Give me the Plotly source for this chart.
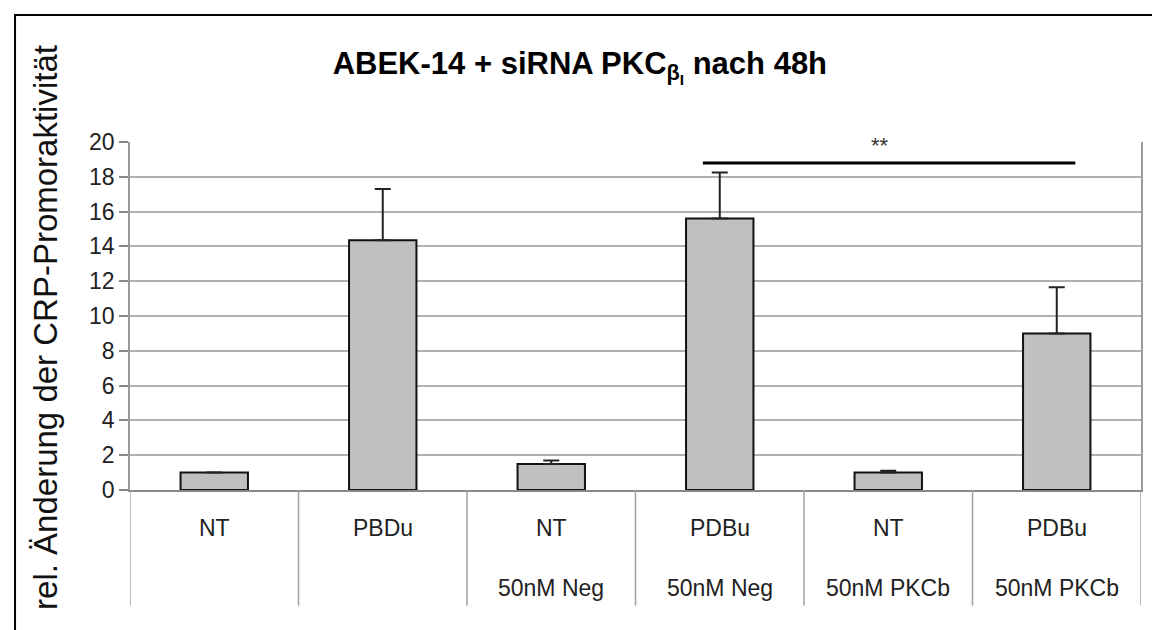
import plotly.graph_objects as go

# ---- data ----
line1 = ["NT", "PBDu", "NT", "PDBu", "NT", "PDBu"]
line2 = ["", "", "50nM Neg", "50nM Neg", "50nM PKCb", "50nM PKCb"]
values = [1.0, 14.35, 1.5, 15.6, 1.0, 9.0]
errors = [0.0, 2.95, 0.2, 2.65, 0.1, 2.65]
y_ticks = [0, 2, 4, 6, 8, 10, 12, 14, 16, 18, 20]
sig_pair = (3, 5)
sig_label = "**"
sig_level = 18.8

categories = [f"{a}|{b}" for a, b in zip(line1, line2)]
idx = list(range(len(categories)))

FONT = "Liberation Sans, Arial, sans-serif"

fig = go.Figure()
fig.add_trace(go.Bar(
    x=idx, y=values, width=0.4,
    marker=dict(color="#c0c0c0", line=dict(color="#111111", width=2)),
    error_y=dict(type="data", array=errors, symmetric=False,
                 arrayminus=[0] * len(errors),
                 color="#222222", thickness=2, width=8),
    showlegend=False,
))

ann = []
for i, (a, b) in enumerate(zip(line1, line2)):
    ann.append(dict(x=i, y=-0.109, xref="x", yref="paper", text=a, showarrow=False,
                    font=dict(family=FONT, size=23, color="#222222"),
                    xanchor="center", yanchor="middle"))
    if b:
        ann.append(dict(x=i, y=-0.282, xref="x", yref="paper", text=b, showarrow=False,
                        font=dict(family=FONT, size=23, color="#222222"),
                        xanchor="center", yanchor="middle"))

# y-axis title
ann.append(dict(x=-0.083, y=0.466, xref="paper", yref="paper",
                text="rel. Änderung der CRP-Promoraktivität", textangle=-90,
                showarrow=False, font=dict(family=FONT, size=33, color="#111111"),
                xanchor="center", yanchor="middle"))
# significance label
ann.append(dict(x=3.95, y=19.8, xref="x", yref="y", text=sig_label, showarrow=False,
                font=dict(family=FONT, size=22, color="#333333"),
                xanchor="center", yanchor="middle"))

shapes = []
# category dividers below axis
for i in range(len(categories) + 1):
    shapes.append(dict(type="line", xref="x", yref="paper", x0=i - 0.5, x1=i - 0.5,
                       y0=0, y1=-0.332, line=dict(color="#a0a0a0", width=1.5)))
# gap in top gridline behind the significance label
shapes.append(dict(type="rect", xref="x", yref="paper", x0=3.74, x1=4.117,
                   y0=0.993, y1=1.007, fillcolor="white", line=dict(width=0),
                   layer="above"))
# significance line
shapes.append(dict(type="line", xref="x", yref="y", x0=sig_pair[0] - 0.1,
                   x1=sig_pair[1] + 0.11, y0=sig_level, y1=sig_level,
                   line=dict(color="#000000", width=3)))
# outer frame
shapes.append(dict(type="rect", xref="paper", yref="paper", x0=-0.1137, x1=1.2,
                   y0=-0.6, y1=1.365, line=dict(color="#000000", width=2),
                   fillcolor="rgba(0,0,0,0)", layer="below"))

fig.update_layout(
    width=1160, height=630,
    margin=dict(l=122, r=27, t=134, b=148),
    paper_bgcolor="white", plot_bgcolor="white",
    title=dict(text="ABEK-14 + siRNA PKC<sub>β<sub>I</sub></sub> nach 48h",
               x=0.493, xanchor="center", y=0.913, yanchor="middle",
               font=dict(family=FONT, size=31, color="#000000", weight="bold")),
    xaxis=dict(range=[-0.5, 5.5], showticklabels=False, ticks="", showgrid=False,
               showline=True, linecolor="#888888", linewidth=2, zeroline=False),
    yaxis=dict(range=[0, 20], tickvals=y_ticks, ticks="outside", ticklen=9,
               tickcolor="#888888", tickwidth=1.5,
               showline=True, linecolor="#999999", linewidth=1.5, mirror=True,
               showgrid=True, gridcolor="#b0b0b0", gridwidth=1.5, zeroline=False,
               tickfont=dict(family=FONT, size=23, color="#222222")),
    annotations=ann, shapes=shapes,
)

fig.write_html("out.html")
